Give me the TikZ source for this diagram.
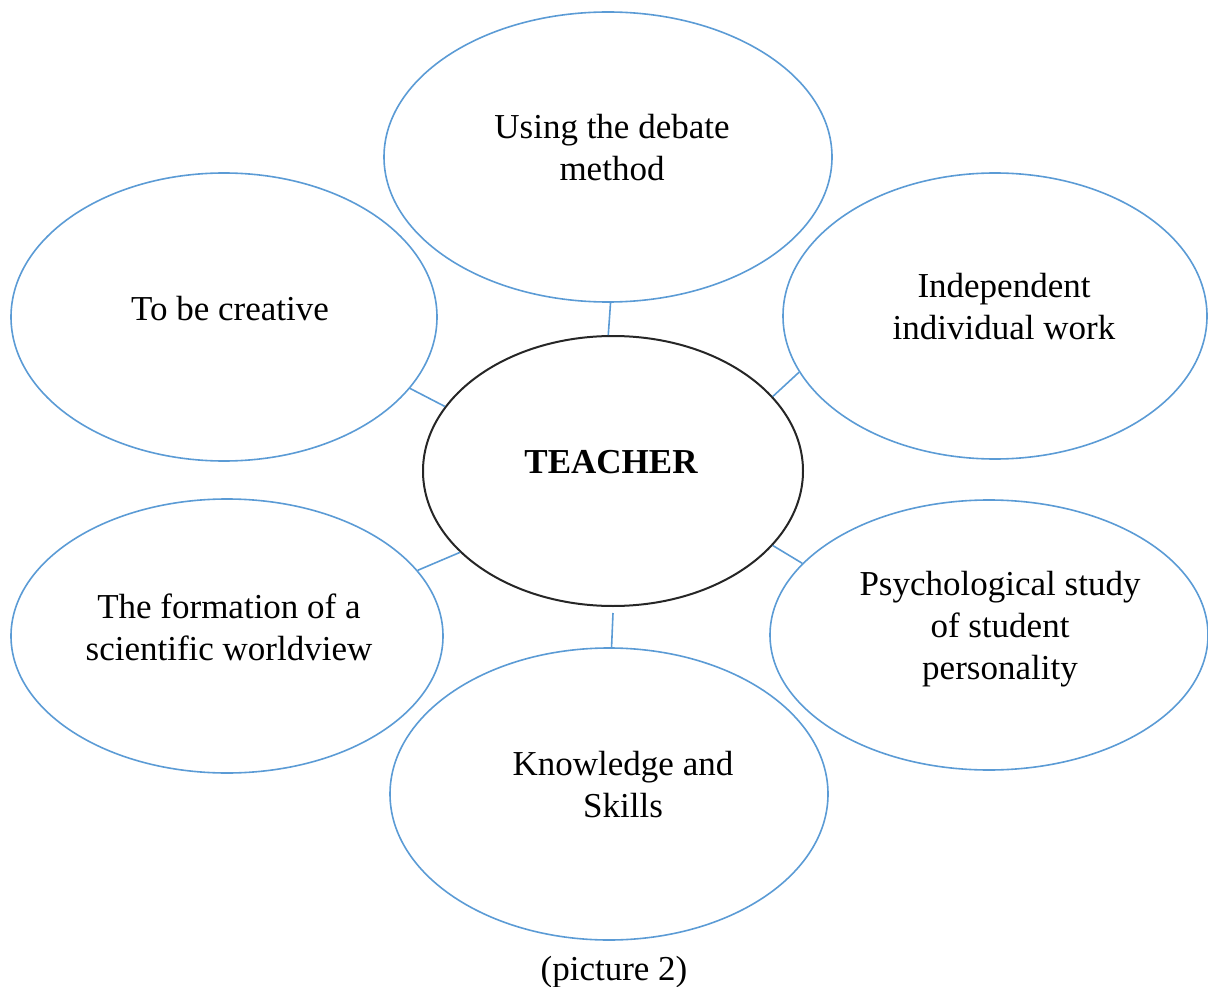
\documentclass[tikz,border=0pt]{standalone}
\usepackage{fontspec}
\setmainfont{Liberation Serif}
\usetikzlibrary{shapes.geometric}
\definecolor{wordblue}{HTML}{5B9BD5}
\tikzset{
  bubble/.style={ellipse, draw=wordblue, line width=1.6pt, inner sep=0pt},
  hub/.style={ellipse, draw=black!85, line width=2pt, inner sep=0pt},
  txt/.style={align=center, inner sep=0pt, font=\fontsize{35}{42}\selectfont},
  link/.style={draw=wordblue, line width=1.6pt}
}
\begin{document}
\begin{tikzpicture}[x=1pt,y=-1pt]
\useasboundingbox (0,0) rectangle (1208,987);
% ellipses
\node[hub, minimum width=380pt, minimum height=270pt] (teacher) at (613,471) {};
\node[bubble, minimum width=448pt, minimum height=290pt] (debate) at (608,157) {};
\node[bubble, minimum width=426pt, minimum height=288pt] (creative) at (224,317) {};
\node[bubble, minimum width=424pt, minimum height=286pt] (indep) at (995,316) {};
\node[bubble, minimum width=432pt, minimum height=274pt] (formation) at (227,636) {};
\node[bubble, minimum width=438pt, minimum height=270pt] (psych) at (989,635) {};
\node[bubble, minimum width=438pt, minimum height=292pt] (knowledge) at (609,794) {};
% texts
\node[txt, font=\fontsize{35}{42}\selectfont\bfseries] (teacher-t) at (611,462) {TEACHER};
\node[txt] (debate-t) at (612,148) {Using the debate\\method};
\node[txt] (creative-t) at (230,309) {To be creative};
\node[txt] (indep-t) at (1004,307) {Independent\\individual work};
\node[txt] (formation-t) at (229,627) {The formation of a\\scientific worldview};
\node[txt] (psych-t) at (1000,629) {Psychological study\\of student\\personality};
\node[txt] (knowledge-t) at (623,785) {Knowledge and\\Skills};
\node[txt] (caption) at (614,972) {(picture 2)};
% connectors
\draw[link] (debate.-89) -- (teacher.92);
\draw[link] (creative.-21) -- (teacher.159);
\draw[link] (indep.196) -- (teacher.25);
\draw[link] (formation.19) -- (teacher.208);
\draw[link] (psych.159) -- (teacher.-25);
\draw[link] ([yshift=-6pt]teacher.-90) -- (knowledge.89);
\end{tikzpicture}
\end{document}
